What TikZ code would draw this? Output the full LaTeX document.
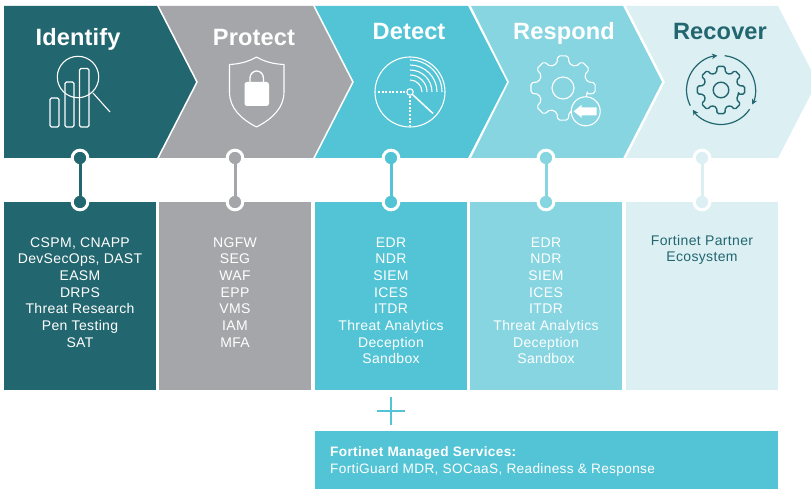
\documentclass[tikz,border=0pt]{standalone}
\usepackage{fontspec}
\setmainfont[LetterSpace=2.5]{Liberation Sans}
\newfontfamily\titlefont[LetterSpace=0.5]{Liberation Sans}
\usetikzlibrary{arrows.meta}
\definecolor{cteal}{HTML}{22666F}
\definecolor{cgray}{HTML}{A5A6A9}
\definecolor{ccyan}{HTML}{52C4D5}
\definecolor{clight}{HTML}{86D5E1}
\definecolor{cpale}{HTML}{DCF0F4}
\tikzset{
  cardbox/.style={minimum width=152pt,minimum height=188pt,inner sep=0pt,anchor=north west,draw=none},
  cardtext/.style={text=white,align=center,anchor=north,inner sep=0pt,font=\fontsize{14}{16.7}\selectfont},
  titletext/.style={font=\fontsize{23.6}{26}\titlefont\bfseries,inner sep=0pt,anchor=base},
  dotnode/.style={circle,draw=white,line width=3pt,minimum size=15.6pt,inner sep=0pt},
  iconline/.style={draw=white,line width=1.1pt},
  linkline/.style={line width=3pt},
}
% gear: centre-relative, args: outer radius, root radius
\newcommand{\gearpath}[2]{%
  (-14:#2) \foreach \a in {0,45,...,315} { -- (\a-14:#2) -- (\a-9.5:#1) -- (\a+9.5:#1) -- (\a+14:#2) } -- cycle}
\begin{document}
\begin{tikzpicture}[x=1pt,y=-1pt]
\useasboundingbox (0,0) rectangle (811,489);
% chevrons
\fill[cteal] (4,6) -- (157,6) -- (196,82) -- (157,158) -- (4,158) -- cycle;
\fill[cgray] (159,6) -- (313,6) -- (352,82) -- (313,158) -- (159,158) -- (198,82) -- cycle;
\fill[ccyan] (315,6) -- (468,6) -- (507,82) -- (468,158) -- (315,158) -- (354,82) -- cycle;
\fill[clight] (471,6) -- (623,6) -- (662,82) -- (623,158) -- (471,158) -- (509,82) -- cycle;
\fill[cpale] (626,6) -- (778,6) -- (811,70) -- (811,94) -- (778,158) -- (626,158) -- (665,82) -- cycle;
% titles
\node[titletext,text=white] (tid) at (78,45.5) {Identify};
\node[titletext,text=white] (tpr) at (254,45.5) {Protect};
\node[titletext,text=white] (tde) at (409,40) {Detect};
\node[titletext,text=white] (tre) at (564,40) {Respond};
\node[titletext,text=cteal] (trc) at (720,40) {Recover};
% cards
\node[cardbox,fill=cteal] (c1) at (4,202) {};
\node[cardbox,fill=cgray] (c2) at (159,202) {};
\node[cardbox,fill=ccyan] (c3) at (315,202) {};
\node[cardbox,fill=clight] (c4) at (470,202) {};
\node[cardbox,fill=cpale] (c5) at (626,202) {};
\node[cardtext] (t1) at (80,237.2) {CSPM, CNAPP\\DevSecOps, DAST\\EASM\\DRPS\\Threat Research\\Pen Testing\\SAT};
\node[cardtext] (t2) at (235,237.2) {NGFW\\SEG\\WAF\\EPP\\VMS\\IAM\\MFA};
\node[cardtext] (t3) at (391,237.2) {EDR\\NDR\\SIEM\\ICES\\ITDR\\Threat Analytics\\Deception\\Sandbox};
\node[cardtext] (t4) at (546,237.2) {EDR\\NDR\\SIEM\\ICES\\ITDR\\Threat Analytics\\Deception\\Sandbox};
\node[cardtext,text=cteal] (t5) at (702,234.7) {Fortinet Partner\\Ecosystem};
% connectors
\foreach \n/\x/\c in {1/80/cteal,2/235/cgray,3/391/ccyan,4/546/clight,5/702/cpale}{
  \node[dotnode,fill=\c] (a\n) at (\x,158) {};
  \node[dotnode,fill=\c] (b\n) at (\x,202) {};
  \draw[linkline,\c] (a\n.center) -- (b\n.center);
}
% plus
\coordinate (pl) at (376.5,411); \coordinate (pr) at (405,411);
\coordinate (pt) at (390.7,397); \coordinate (pb) at (390.7,425);
\draw[ccyan,line width=2pt] (pl) -- (pr);
\draw[ccyan,line width=2pt] (pt) -- (pb);
% managed services
\node[fill=ccyan,minimum width=463pt,minimum height=58pt,inner sep=0pt,anchor=north west] (ms) at (315,431) {};
\node[text=white,align=left,anchor=north west,inner sep=0pt,font=\fontsize{13.65}{16.7}\selectfont] (mst) at (330,446.5)
  {\textbf{Fortinet Managed Services:}\\FortiGuard MDR, SOCaaS, Readiness \& Response};
% Identify icon
\draw[iconline,rounded corners=1.5pt] (50,98) rectangle (59,127);
\draw[iconline,rounded corners=1.5pt] (65,82) rectangle (74,127);
\draw[iconline,rounded corners=1.5pt] (79.5,68.5) rectangle (89,127);
\draw[iconline] (78,77) circle (20.7);
\draw[iconline] (93,93) -- (110,112);
% Protect icon
\draw[iconline,line join=round] (256.5,57) .. controls (265,62) and (274,64) .. (284,64.5)
  -- (284,92) .. controls (284,108) and (272,119) .. (256.5,127)
  .. controls (241,119) and (229.5,108) .. (229.5,92) -- (229.5,64.5)
  .. controls (239,64) and (248,62) .. (256.5,57) -- cycle;
\fill[white,rounded corners=2.5pt] (244.5,82) rectangle (269,106);
\draw[iconline,line width=1.3pt] (250,83) -- (250,78) arc (180:360:6.7 and 7) -- (263.4,83);
% Detect icon
\begin{scope}[shift={(410,92)},y=1pt]
  \draw[iconline] (0,0) circle (35);
  \draw[iconline] (0,0) circle (3.2);
  \foreach \r in {12,17,22,27,32} \draw[iconline] (0,\r) arc (90:0:\r);
  \draw[iconline,line width=1.3pt,dash pattern=on 2pt off 1.6pt] (-32,0) -- (-4,0);
  \draw[iconline,line width=1.3pt,dash pattern=on 2pt off 1.6pt] (0,-4) -- (0,-33);
  \draw[iconline,line width=1.5pt] (2.5,-2.5) -- (23,-21.5);
\end{scope}
% Respond icon
\begin{scope}[shift={(563,88)},y=1pt]
  \draw[iconline,line join=round,rounded corners=2pt] \gearpath{32.5}{25};
  \draw[iconline] (0,0) circle (11);
\end{scope}
\begin{scope}[shift={(585.7,111.3)},y=1pt]
  \draw[iconline,fill=clight] (0,0) circle (14.5);
  \fill[white] (-12,0) -- (-4,6.5) -- (-4,4) -- (11,4) -- (11,-4) -- (-4,-4) -- (-4,-6.5) -- cycle;
\end{scope}
% Recover icon
\begin{scope}[shift={(721,90)},y=1pt]
  \draw[draw=cteal,line width=1.4pt,line join=round,rounded corners=1.5pt] \gearpath{24}{18};
  \draw[draw=cteal,line width=1.4pt] (0,0) circle (7.8);
  \draw[cteal,line width=1.2pt,-{Stealth[length=5.5pt,width=5.5pt]}] (207:34.5) arc (207:96:34.5);
  \draw[cteal,line width=1.2pt,-{Stealth[length=5.5pt,width=5.5pt]}] (84:34.5) arc (84:-25:34.5);
  \draw[cteal,line width=1.2pt,-{Stealth[length=5.5pt,width=5.5pt]}] (-34:34.5) arc (-34:-145:34.5);
\end{scope}
\end{tikzpicture}
\end{document}
